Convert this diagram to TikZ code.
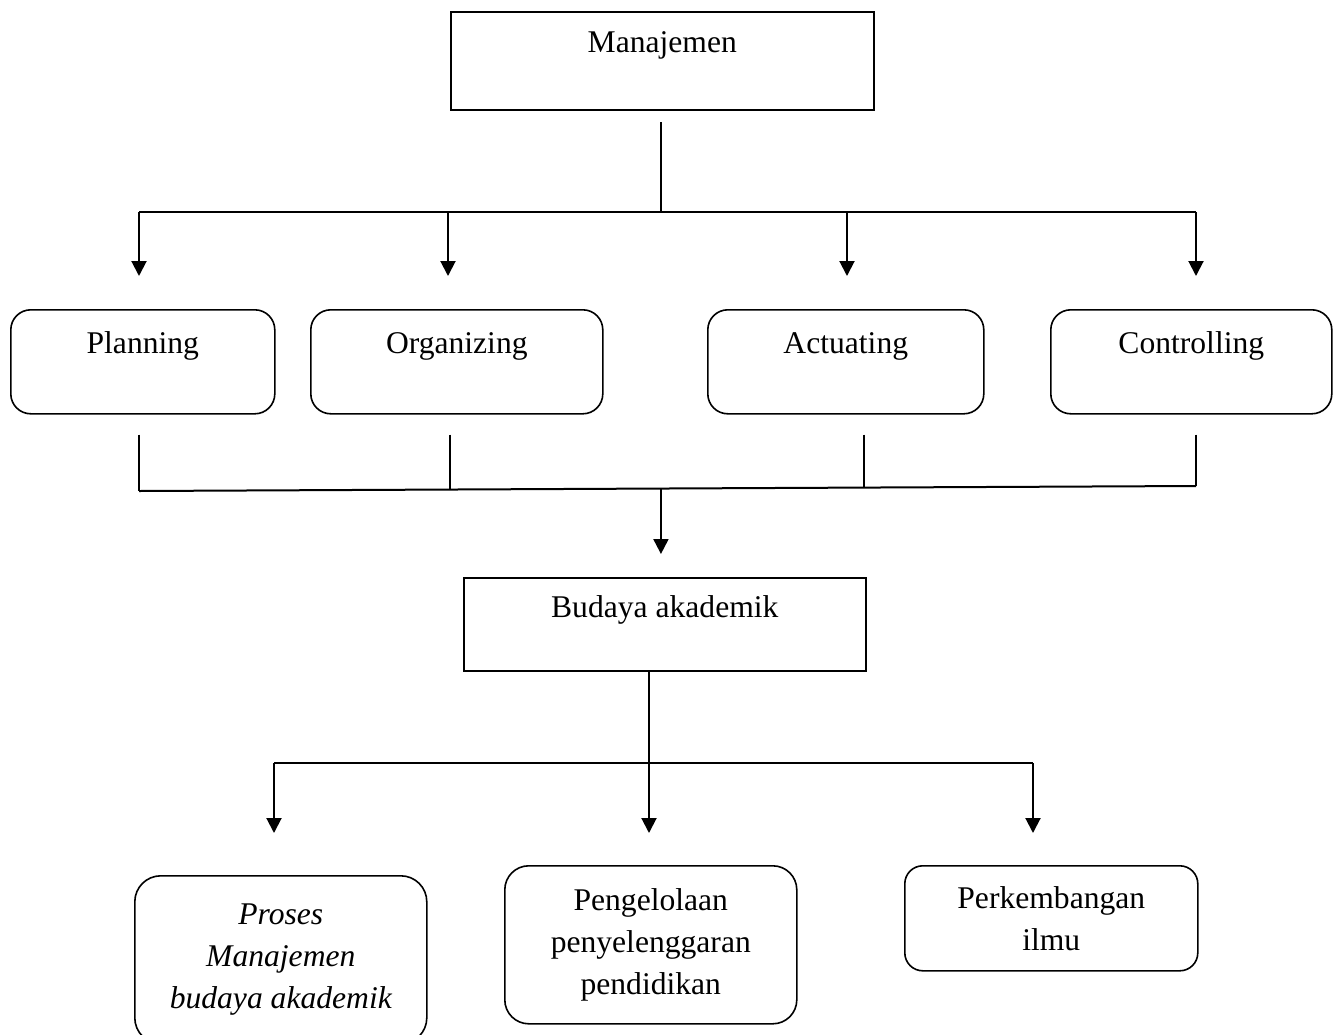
\documentclass[tikz,border=0pt]{standalone}
\usepackage{fontspec}
\setmainfont{Liberation Serif}
\usetikzlibrary{arrows.meta,calc}
\begin{document}
\begin{tikzpicture}[x=0.5pt,y=-0.5pt,
  ln/.style={line width=1pt},
  arr/.style={line width=1pt,-{Triangle[length=7.5pt,width=7.5pt]}},
  sq/.style={draw, line width=0.8pt, inner xsep=0pt, inner ysep=0pt, anchor=north west,
     font=\fontsize{15.8pt}{21pt}\selectfont},
  topbox/.style={sq, text height=22pt, text depth=30pt, rounded corners=10pt},
  lowbox/.style={sq, align=center, inner ysep=0pt}]
\useasboundingbox (0,0) rectangle (1341,1035);

% boxes
\node[sq, minimum width=211.5pt, text height=20.5pt, text depth=28.5pt] (man) at (450,11) {Manajemen};
\node[topbox, minimum width=132pt] (pl) at (10,309) {Planning};
\node[topbox, minimum width=146pt] (or) at (310,309) {Organizing};
\node[topbox, minimum width=138pt] (ac) at (707,309) {Actuating};
\node[topbox, minimum width=140.5pt] (co) at (1050,309) {Controlling};
\node[sq, minimum width=201pt, text height=20pt, text depth=26.5pt] (bud) at (463,577) {Budaya akademik};
\node[lowbox, minimum width=146pt, minimum height=84pt, rounded corners=13pt] (pr) at (134,875)
  {\itshape Proses\\\itshape Manajemen\\\itshape budaya akademik};
\node[lowbox, minimum width=146pt, minimum height=79pt, rounded corners=12pt] (pg) at (504,865)
  {Pengelolaan\\penyelenggaran\\pendidikan};
\node[lowbox, minimum width=146.5pt, minimum height=52.5pt, rounded corners=9pt] (pk) at (904,865)
  {Perkembangan\\ilmu};

% top fan-out
\coordinate (m1) at (661,122);
\coordinate (m2) at (661,212);
\coordinate (t1) at (139,212);
\coordinate (t2) at (448,212);
\coordinate (t3) at (847,212);
\coordinate (t4) at (1196,212);
\draw[ln] (m1) -- (m2);
\draw[ln] (t1) -- (t4);
\draw[arr, shorten >=16.5pt] (t1) -- (t1 |- pl.north);
\draw[arr, shorten >=16.5pt] (t2) -- (t2 |- or.north);
\draw[arr, shorten >=16.5pt] (t3) -- (t3 |- ac.north);
\draw[arr, shorten >=16.5pt] (t4) -- (t4 |- co.north);

% fan-in
\coordinate (u1) at (139,491);
\coordinate (u4) at (1196,486);
\coordinate (u2) at ($(u1)!0.2942!(u4)$);
\coordinate (u3) at ($(u1)!0.6859!(u4)$);
\coordinate (u5) at ($(u1)!0.4938!(u4)$);
\draw[ln, shorten <=10pt] (u1 |- pl.south) -- (u1);
\draw[ln, shorten <=10pt] (u2 |- or.south) -- (u2);
\draw[ln, shorten <=10pt] (u3 |- ac.south) -- (u3);
\draw[ln, shorten <=10pt] (u4 |- co.south) -- (u4);
\draw[ln] (u1) -- (u4);
\draw[arr, shorten >=11.5pt] (u5) -- (u5 |- bud.north);

% bottom fan-out
\coordinate (v1) at (274,763);
\coordinate (v2) at (649,763);
\coordinate (v3) at (1033,763);
\draw[arr, shorten >=16pt] (v2 |- bud.south) -- (v2 |- pg.north);
\draw[ln] (v1) -- (v3);
\draw[arr, shorten >=21pt] (v1) -- (v1 |- pr.north);
\draw[arr, shorten >=16pt] (v3) -- (v3 |- pk.north);
\end{tikzpicture}
\end{document}
